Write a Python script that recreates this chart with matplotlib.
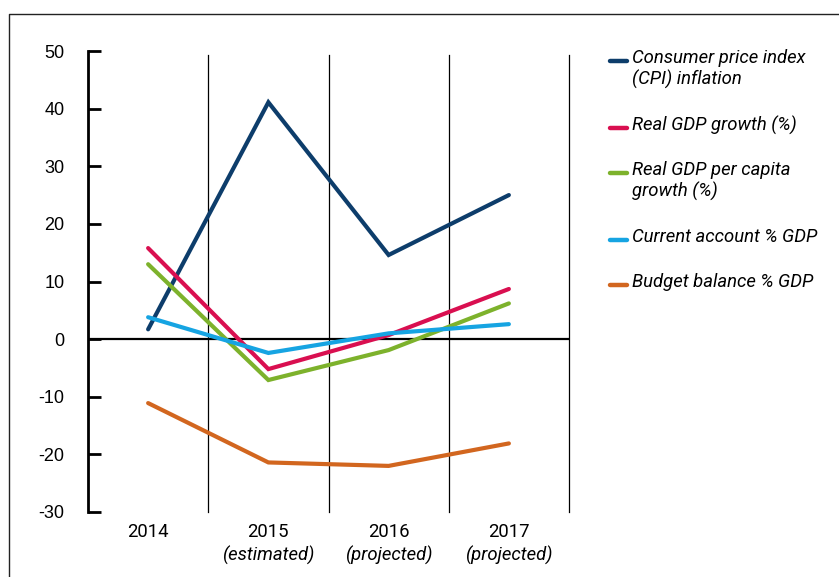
import matplotlib
matplotlib.use("Agg")
import matplotlib.pyplot as plt
from matplotlib.lines import Line2D

plt.rcParams["axes.unicode_minus"] = False

years = ["2014", "2015", "2016", "2017"]
notes = ["", "(estimated)", "(projected)", "(projected)"]

cpi = [1.7, 41.1, 14.6, 25.0]
gdp = [15.8, -5.2, 0.7, 8.7]
gdp_pc = [13.0, -7.1, -1.9, 6.2]
current_account = [3.8, -2.4, 1.0, 2.6]
budget = [-11.1, -21.4, -22.0, -18.1]

labels = ["Consumer price index\n(CPI) inflation", "Real GDP growth (%)",
          "Real GDP per capita\ngrowth (%)", "Current account % GDP",
          "Budget balance % GDP"]
colors = ["#0d3d6b", "#d90f50", "#7db22c", "#16a4e2", "#d2661f"]

W, H = 839, 577
fig = plt.figure(figsize=(W / 100, H / 100), dpi=100)
ax = fig.add_axes([88 / W, 1 - 512 / H, (569 - 88) / W, (512 - 51) / H])

x = range(len(years))
for vals, c in zip([cpi, gdp, gdp_pc, current_account, budget], colors):
    ax.plot(x, vals, color=c, lw=3.0, solid_capstyle="round",
            solid_joinstyle="miter", zorder=3)

ax.set_xlim(-0.5, len(years) - 0.5)
ax.set_ylim(-30, 50)
ax.set_yticks(range(-30, 51, 10))
for b in [0.5, 1.5, 2.5, 3.5]:
    ax.axvline(b, ymin=0, ymax=0.992, color="black", lw=0.9, zorder=1,
               clip_on=False)
ax.axhline(0, color="black", lw=1.6, zorder=2)

for s in ["top", "right", "bottom"]:
    ax.spines[s].set_visible(False)
ax.spines["left"].set_linewidth(2.0)

ax.tick_params(axis="y", direction="in", length=9.5, width=2.0, pad=17)
for t in ax.get_yticklabels():
    t.set_fontfamily("Liberation Sans")
    t.set_fontsize(13)

ax.set_xticks(list(x))
ax.set_xticklabels(years, fontfamily="Roboto", fontsize=13.3)
ax.tick_params(axis="x", length=0, pad=8)
for i, n in enumerate(notes):
    if n:
        ax.text(i, -0.094, n, transform=ax.get_xaxis_transform(), ha="center",
                va="center", fontfamily="Roboto", fontstyle="italic", fontsize=13.3)

# legend drawn by hand
leg_y = [61, 128, 173, 240, 285]
for lab, c, yy in zip(labels, colors, leg_y):
    fy = 1 - yy / H
    fig.add_artist(Line2D([610 / W, 627 / W], [fy, fy], color=c, lw=3.2,
                          solid_capstyle="round"))
    fig.text(632 / W, fy + 12 / H, lab, ha="left", va="top", fontfamily="Roboto",
             fontstyle="italic", fontsize=13.3, linespacing=1.2)

# outer frame (left and top edges)
fig.add_artist(Line2D([8.5 / W, 8.5 / W, 1.0], [0, 1 - 14 / H, 1 - 14 / H],
                      color="#222222", lw=1.0))

fig.savefig("out.png", dpi=100)
